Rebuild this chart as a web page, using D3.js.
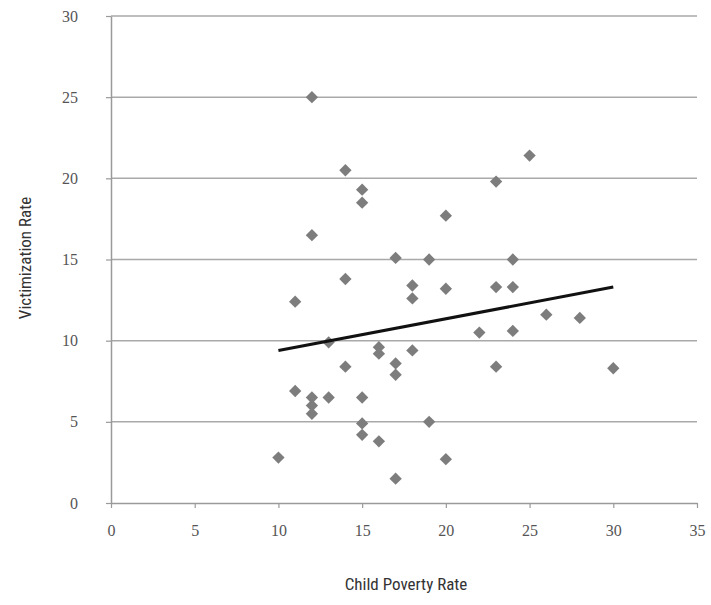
<!DOCTYPE html>
<html><head><meta charset="utf-8">
<script src="https://cdn.jsdelivr.net/npm/d3@7"></script>
<style>body{margin:0;background:#fff}</style>
</head><body>
<svg id="chart" width="711" height="605"></svg>
<script>
const povertyRate = [12,14,15,15,12,17,14,11,18,18,20,23,24,13,16,16,18,17,17,14,11,12,12,12,13,15,15,15,16,10,17,19,19,24,20,23,25,26,28,22,24,23,30,20];
const victimRate  = [25,20.5,19.3,18.5,16.5,15.1,13.8,12.4,13.4,12.6,13.2,13.3,13.3,9.9,9.6,9.2,9.4,8.6,7.9,8.4,6.9,6.5,6.0,5.5,6.5,6.5,4.9,4.2,3.8,2.8,1.5,15.0,5.0,15.0,17.7,19.8,21.4,11.6,11.4,10.5,10.6,8.4,8.3,2.7];
const trendX = [10,30];
const trendY = [9.4,13.3];
const xTicks = [0,5,10,15,20,25,30,35];
const yTicks = [0,5,10,15,20,25,30];
const xTitle = "Child Poverty Rate";
const yTitle = "Victimization Rate";

const pts = povertyRate.map((x,i)=>({x, y: victimRate[i]}));

const svg = d3.select("#chart");
const x = d3.scaleLinear().domain([0,35]).range([111,697]);
const y = d3.scaleLinear().domain([0,30]).range([503,16]);

svg.append("g").selectAll("line").data(yTicks.filter(d=>d>0)).join("line")
  .attr("x1", x(0)).attr("x2", x(35))
  .attr("y1", d=>y(d)).attr("y2", d=>y(d))
  .attr("stroke", "#a9a9a9").attr("stroke-width", 1.5);

const serif = "'Liberation Serif','DejaVu Serif',serif";
const xa = svg.append("g").attr("transform", `translate(0,${y(0)})`)
  .call(d3.axisBottom(x).tickValues(xTicks).tickSize(5).tickPadding(17).tickSizeOuter(0));
const ya = svg.append("g").attr("transform", `translate(${x(0)},0)`)
  .call(d3.axisLeft(y).tickValues(yTicks).tickSize(5).tickPadding(28).tickSizeOuter(0));
[xa, ya].forEach(a=>{
  a.select(".domain").attr("stroke", "#9a9a9a").attr("stroke-width", 1.5);
  a.selectAll(".tick line").attr("stroke", "#9a9a9a").attr("stroke-width", 1.2);
  a.selectAll("text").attr("fill", "#555").style("font-family", serif).style("font-size", "16px");
});

svg.append("g").selectAll("path").data(pts).join("path")
  .attr("d", d3.symbol(d3.symbolSquare, 76))
  .attr("transform", d=>`translate(${x(d.x)},${y(d.y)}) rotate(45)`)
  .attr("fill", "#7d7d7d");

svg.append("line")
  .attr("x1", x(trendX[0])).attr("y1", y(trendY[0]))
  .attr("x2", x(trendX[1])).attr("y2", y(trendY[1]))
  .attr("stroke", "#111").attr("stroke-width", 3);

const sans = "'Liberation Sans Narrow','Roboto Condensed','Liberation Sans',sans-serif";
svg.append("text").attr("x", 406).attr("y", 590).attr("text-anchor", "middle")
  .style("font-family", sans).style("font-size", "17px").attr("fill", "#333").text(xTitle);
svg.append("text").attr("transform", "translate(31,258) rotate(-90)").attr("text-anchor", "middle")
  .style("font-family", sans).style("font-size", "17px").attr("fill", "#333").text(yTitle);
</script>
</body></html>
